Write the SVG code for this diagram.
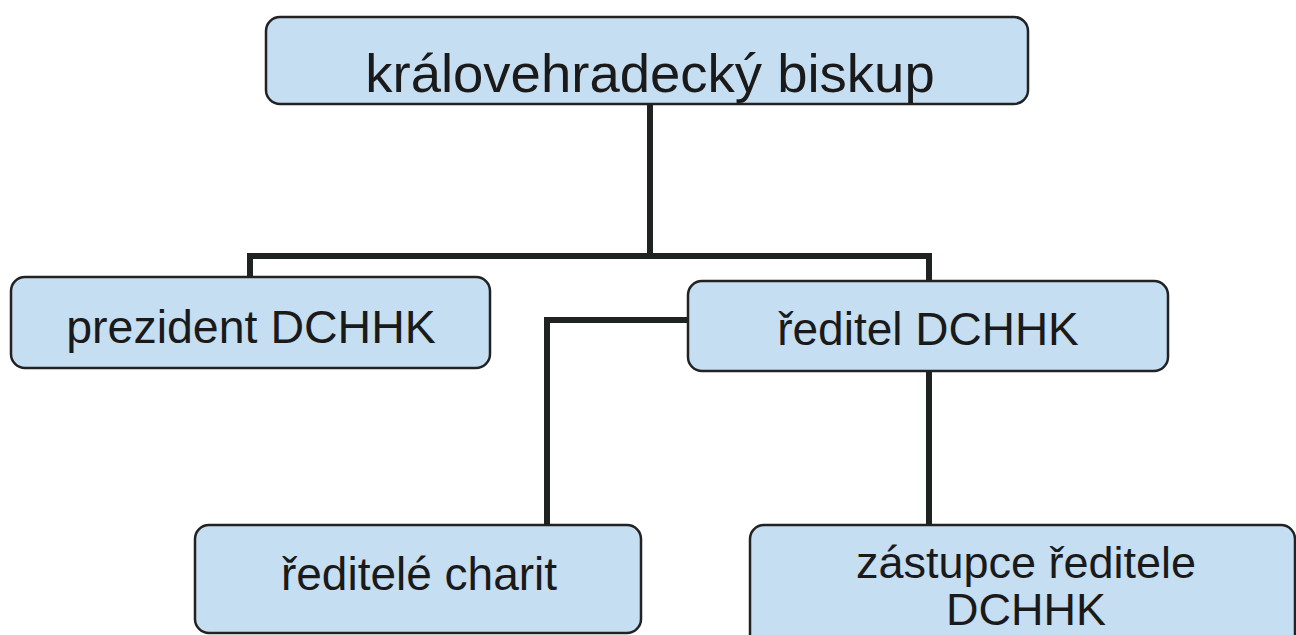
<svg xmlns="http://www.w3.org/2000/svg" width="1296" height="635" viewBox="0 0 1296 635">
<style>
.box{fill:#c6def2;stroke:#222;stroke-width:2.5}
.t{font-family:"Liberation Sans",Arial,sans-serif;fill:#1a1a1a;text-anchor:middle}
.c{fill:none;stroke:#1e2220;stroke-width:6;stroke-linejoin:miter}
</style>
<rect width="1296" height="635" fill="#ffffff"/>
<g id="connectors">
<path class="c" d="M650 104 V256 M250 256 H929 M250 253 V277 M929 253 V281"/>
<path class="c" d="M688 320 H547 V525"/>
<path class="c" d="M929 371 V525"/>
</g>
<g id="biskup">
<rect class="box" x="266" y="17" width="762" height="87" rx="14"/>
<text class="t" x="650" y="92" font-size="54.5">královehradecký biskup</text>
</g>
<g id="prezident">
<rect class="box" x="11" y="277" width="479" height="91" rx="14"/>
<text class="t" x="251" y="343" font-size="46.5">prezident DCHHK</text>
</g>
<g id="reditel">
<rect class="box" x="688" y="281" width="480" height="90" rx="14"/>
<text class="t" x="928" y="345" font-size="46">ředitel DCHHK</text>
</g>
<g id="reditele-charit">
<rect class="box" x="195" y="525" width="446" height="108" rx="14"/>
<text class="t" x="419" y="590" font-size="46">ředitelé charit</text>
</g>
<g id="zastupce">
<rect class="box" x="750" y="525" width="545" height="130" rx="14"/>
<text class="t" x="1026" y="578" font-size="45">zástupce ředitele</text>
<text class="t" x="1026" y="625" font-size="45">DCHHK</text>
</g>
</svg>
